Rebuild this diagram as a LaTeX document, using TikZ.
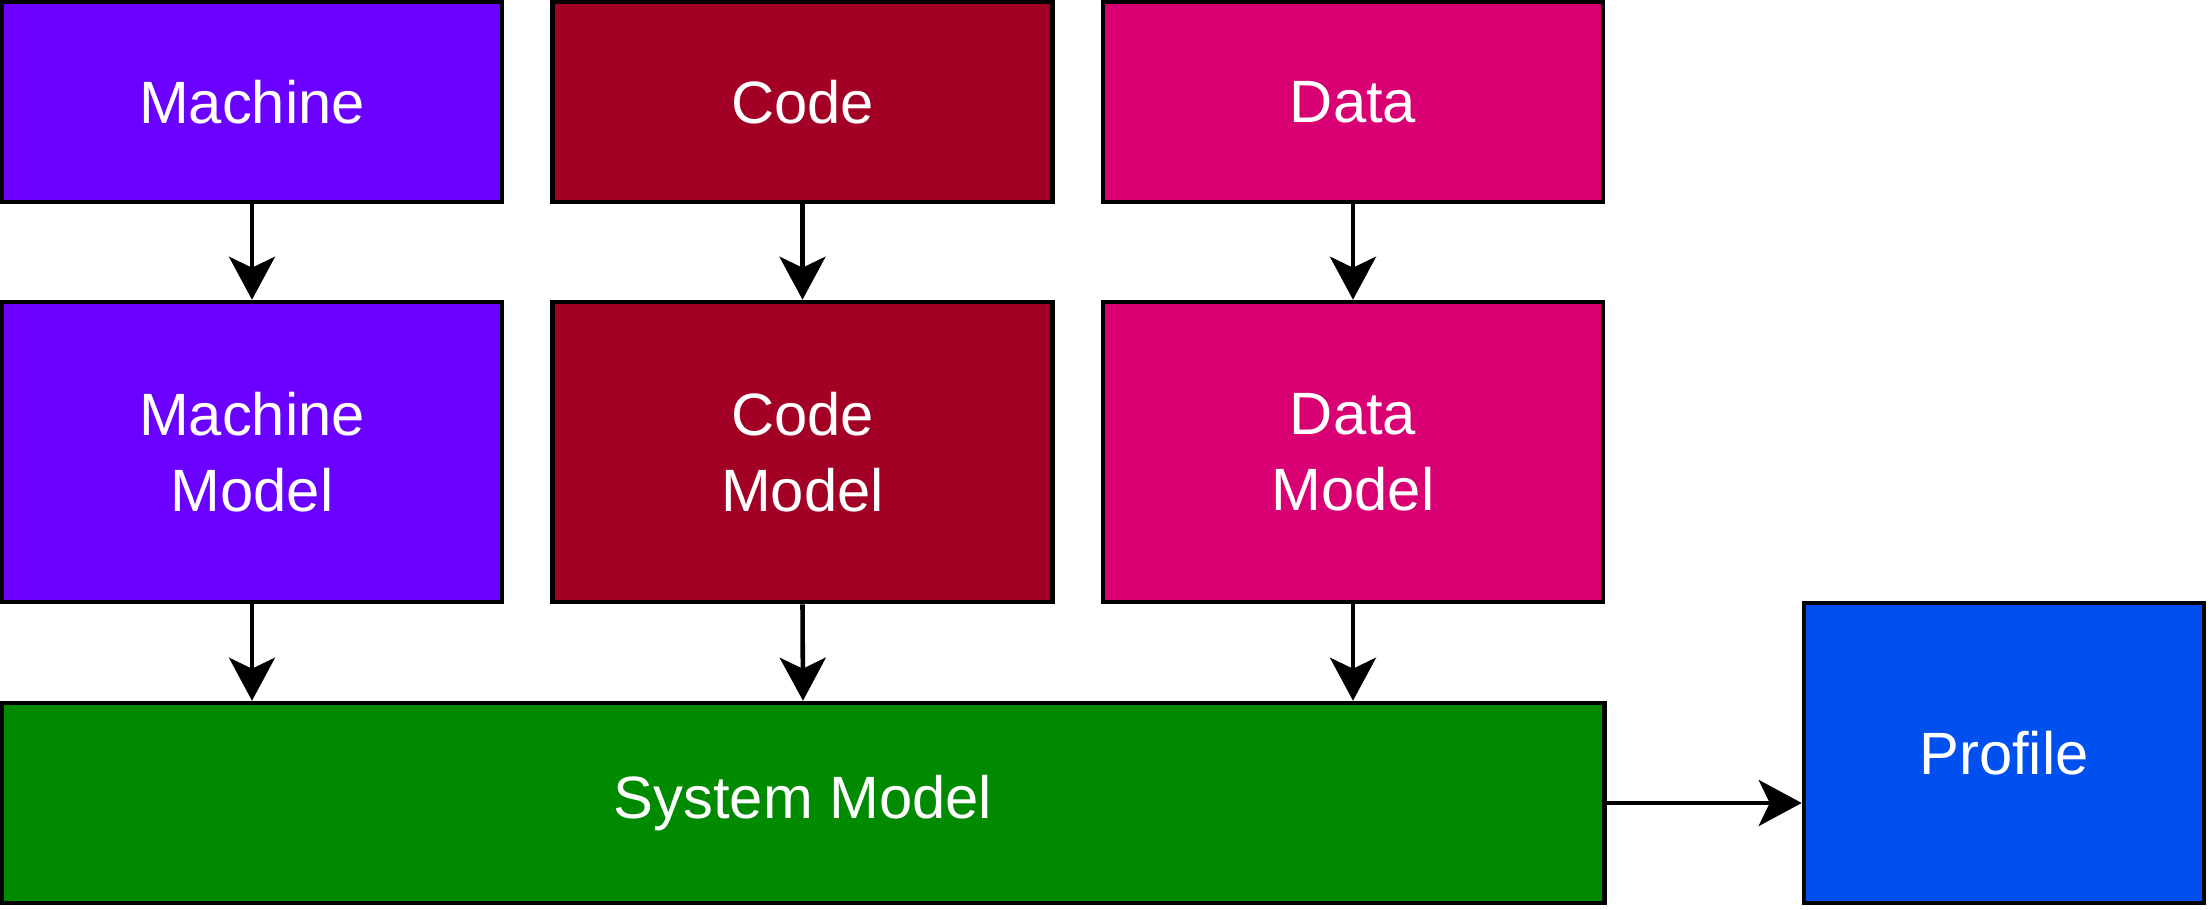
\documentclass[tikz,border=0pt]{standalone}
\usepackage{fontspec}
\setmainfont{Liberation Sans}
\usepackage{xcolor}
\usetikzlibrary{positioning,arrows.meta}

\definecolor{machcol}{HTML}{6A00FF}
\definecolor{codecol}{HTML}{A20025}
\definecolor{datacol}{HTML}{D80073}
\definecolor{syscol}{HTML}{008A00}
\definecolor{profcol}{HTML}{0050EF}

\begin{document}
\begin{tikzpicture}[blk/.style={draw=black,line width=1.3pt,text=white,align=center,minimum width=5cm,inner sep=0pt,font=\fontsize{17}{21.6}\selectfont},arr/.style={-{Stealth[length=4.3mm,width=4.6mm,inset=1.1mm]},line width=1.3pt}]
      \useasboundingbox (0,0) rectangle (22.1,-9.1);
      \node[blk,fill=machcol,minimum height=2cm] (mach) at (2.52,-1.02) {Machine};
      \node[blk,fill=codecol,minimum height=2cm] (code) at (8.025,-1.02) {Code};
      \node[blk,fill=datacol,minimum height=2cm] (data) at (13.53,-1.02) {Data};

      \node[blk,fill=machcol,minimum height=3cm] (machm) at (2.52,-4.52) {Machine\\Model};
      \node[blk,fill=codecol,minimum height=3cm] (codem) at (8.025,-4.52) {Code\\Model};
      \node[blk,fill=datacol,minimum height=3cm] (datam) at (13.53,-4.52) {Data\\Model};

      \node[blk,fill=syscol,minimum height=2cm,minimum width=16.03cm] (sys) at (8.03,-8.03) {System Model};
      \node[blk,fill=profcol,minimum height=3cm,minimum width=4cm] (prof) at (20.04,-7.53) {Profile};

      \draw[arr] (mach) -- (machm);
      \draw[arr] (code) -- (codem);
      \draw[arr] (data) -- (datam);
      \draw[arr] (machm.south) -- (machm.south |- sys.north);
      \draw[arr] (codem.south) -- (sys.north);
      \draw[arr] (datam.south) -- (datam.south |- sys.north);
      \draw[arr] (sys.east) -- (sys.east -| prof.west);
\end{tikzpicture}
\end{document}
